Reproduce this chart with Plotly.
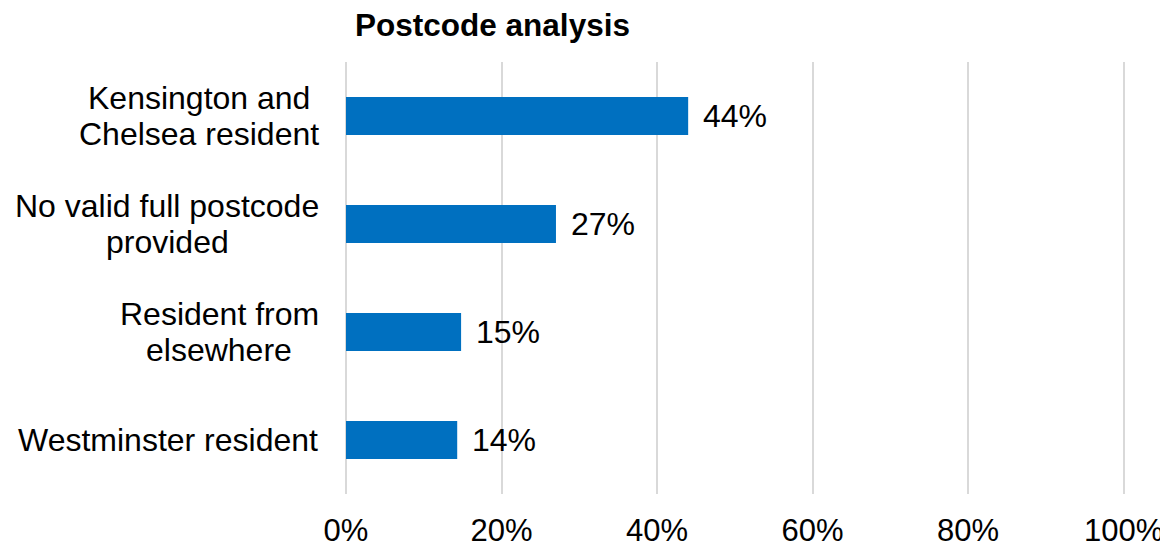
import plotly.graph_objects as go

categories = ['Kensington and<br>Chelsea resident',
              'No valid full postcode<br>provided',
              'Resident from<br>elsewhere',
              'Westminster resident']
shares = [0.44, 0.27, 0.148, 0.143]
share_labels = ['44%', '27%', '15%', '14%']
x_ticks = [0, 0.2, 0.4, 0.6, 0.8, 1.0]
x_tick_labels = ['0%', '20%', '40%', '60%', '80%', '100%']

BAR = '#0070C0'
GRID = '#d9d9d9'
FONT = 'Liberation Sans, Arial, sans-serif'
BLACK = '#000000'

fig = go.Figure(go.Bar(
    x=shares, y=categories, orientation='h',
    width=0.35,
    marker=dict(color=BAR, line=dict(width=0)),
    hoverinfo='skip',
))

annotations = []
# value labels just right of each bar
for cat, val, lab in zip(categories, shares, share_labels):
    annotations.append(dict(
        x=val, y=cat, xref='x', yref='y', text=lab, showarrow=False,
        xanchor='left', yanchor='middle', xshift=13,
        font=dict(family=FONT, size=32, color=BLACK)))

# category labels: one annotation per line so lines stay centred and tight
# (pixel centre of each label block, right edge lands near 318px)
label_centres = [199, 167, 219, 168]
LINE_GAP = 36
for cat, cx in zip(categories, label_centres):
    lines = cat.split('<br>')
    n = len(lines)
    for i, line in enumerate(lines):
        annotations.append(dict(
            x=0, y=cat, xref='x', yref='y', text=line, showarrow=False,
            xanchor='center', yanchor='middle',
            xshift=cx - 346,
            yshift=((n - 1) / 2 - i) * LINE_GAP,
            font=dict(family=FONT, size=32, color=BLACK)))

fig.update_layout(
    width=1160, height=538,
    paper_bgcolor='white', plot_bgcolor='white',
    margin=dict(l=338, r=42, t=54, b=52),
    font=dict(family=FONT, size=31, color=BLACK),
    showlegend=False,
    title=dict(text='<b>Postcode analysis</b>', x=484.5 / 1160, xanchor='center',
               xref='container', y=1 - 17 / 538, yref='container', yanchor='middle',
               font=dict(family=FONT, size=31.5, color=BLACK)),
    # range a touch past 100% so plotly keeps the last gridline
    xaxis=dict(range=[0, 1.003], tickvals=x_ticks, ticktext=x_tick_labels,
               showgrid=True, gridcolor=GRID, gridwidth=1.5,
               zeroline=True, zerolinecolor=GRID, zerolinewidth=1.5,
               showline=False, ticks='', ticklabelstandoff=15,
               automargin=False,
               tickfont=dict(family=FONT, size=31, color=BLACK),
               fixedrange=True),
    yaxis=dict(categoryorder='array', categoryarray=categories[::-1],
               showticklabels=False, showgrid=False, zeroline=False,
               showline=False, ticks='', automargin=False, fixedrange=True),
    annotations=annotations,
)

fig.write_html("out.html")
